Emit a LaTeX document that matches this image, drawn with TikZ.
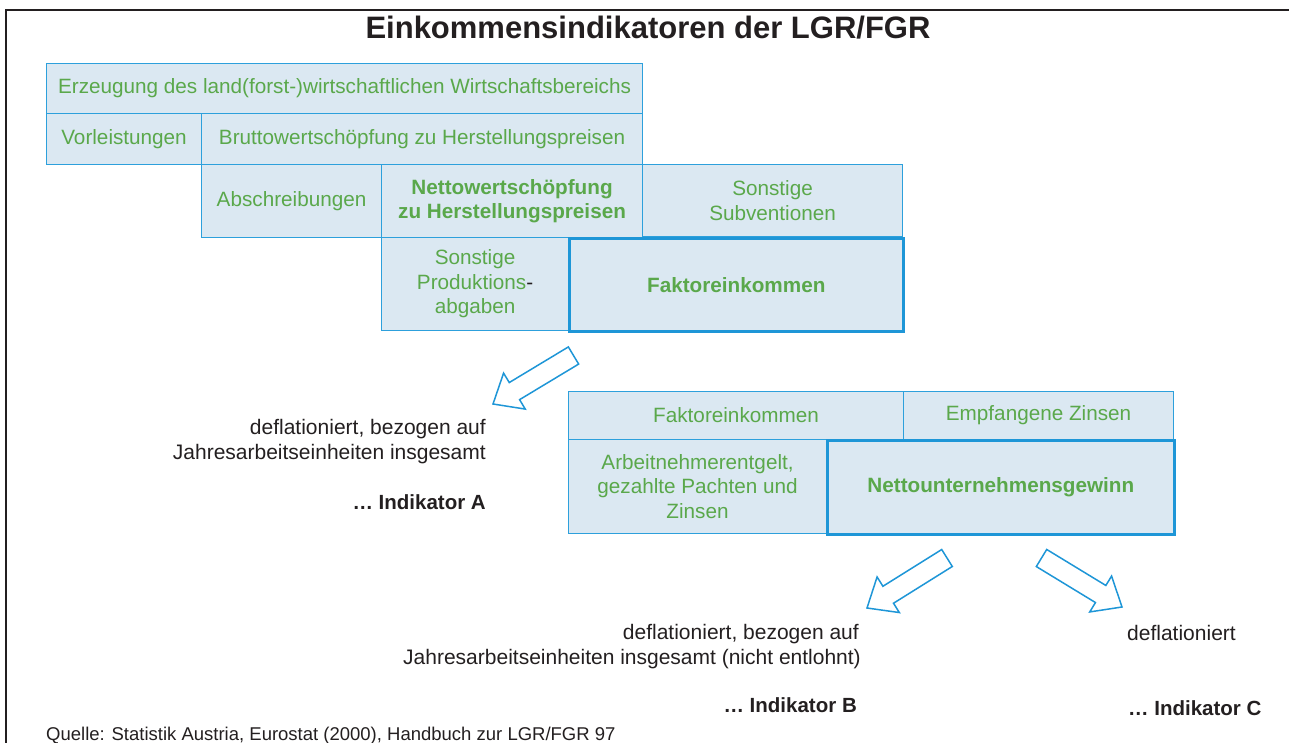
\documentclass[tikz,border=0pt]{standalone}
\usepackage{fontspec}
\setmainfont{Liberation Sans}
\usetikzlibrary{calc}
\definecolor{boxgreen}{RGB}{90,168,75}
\definecolor{boxfill}{RGB}{219,232,242}
\definecolor{boxline}{RGB}{45,160,220}
\definecolor{thickline}{RGB}{30,150,215}
\definecolor{txtblack}{RGB}{35,31,32}
\newcommand{\blkarrow}[2]{%
  \coordinate (#1-base) at ($(#2)!25pt!(#1)$);
  \draw[blkarr] ($(#1)!10pt!90:(#2)$) -- ($(#1-base)!10pt!90:(#2)$) -- ($(#1-base)!21pt!90:(#2)$) -- (#2)
     -- ($(#1-base)!21pt!-90:(#2)$) -- ($(#1-base)!10pt!-90:(#2)$) -- ($(#1)!10pt!-90:(#2)$) -- cycle;}
\begin{document}
\begin{tikzpicture}[x=1pt,y=-1pt,
  box/.style={draw=boxline, line width=1.1pt, fill=boxfill, text=boxgreen, align=center,
    inner sep=0pt, anchor=north west, font=\fontsize{20.7}{24.5}\selectfont},
  boldbox/.style={box, font=\fontsize{20.7}{24.5}\selectfont\bfseries},
  thickbox/.style={boldbox, line width=2.6pt, draw=thickline},
  lbl/.style={text=txtblack, inner sep=0pt, font=\fontsize{21}{25}\selectfont},
  boldlbl/.style={lbl, font=\fontsize{20.5}{25}\selectfont\bfseries},
  blkarr/.style={draw=thickline, line width=1.5pt, fill=white, line join=miter}]
\useasboundingbox (0,0) rectangle (1289,743);
% frame
\coordinate (fbl) at (6,743);
\coordinate (ftl) at (6,10);
\coordinate (ftr) at (1289,10);
\draw[line width=1.5pt, txtblack] (fbl) -- (ftl) -- (ftr);
% title
\node[text=txtblack, inner sep=0pt, anchor=base, font=\fontsize{31}{36}\selectfont\bfseries] (title) at (648,39) {Einkommensindikatoren der LGR/FGR};
% first group
\node[box, minimum width=596pt, minimum height=50pt] (erz) at (46,63) {\raisebox{-2pt}{Erzeugung des land(forst-)wirtschaftlichen Wirtschaftsbereichs}};
\node[box, minimum width=155pt, minimum height=51pt] (vor) at (46,113) {Vorleistungen};
\node[box, minimum width=441pt, minimum height=51pt] (bws) at (201,113) {Bruttowertschöpfung zu Herstellungspreisen};
\node[box, minimum width=180pt, minimum height=73pt] (abs) at (201,164) {Abschreibungen};
\node[boldbox, minimum width=261pt, minimum height=73pt] (nws) at (381,164) {Nettowertschöpfung\\zu Herstellungspreisen};
\node[box, minimum width=260pt, minimum height=72pt] (sub) at (642,164) {Sonstige\\Subventionen};
\node[box, minimum width=187pt, minimum height=93pt] (spa) at (381,237) {Sonstige\\Produktions{\color{txtblack}-}\\abgaben};
\node[thickbox, minimum width=334pt, minimum height=93pt] (fak) at (568,237) {Faktoreinkommen};
% second group
\node[box, minimum width=335pt, minimum height=48pt] (fak2) at (568,391) {Faktoreinkommen};
\node[box, minimum width=270pt, minimum height=48pt] (emp) at (903,391) {Empfangene Zinsen};
\node[box, minimum width=258pt, minimum height=94pt] (arb) at (568,439) {Arbeitnehmerentgelt,\\gezahlte Pachten und\\Zinsen};
\node[thickbox, minimum width=347pt, minimum height=94pt] (nug) at (826,439) {Nettounternehmensgewinn};
% block arrows
\coordinate (a1t) at (573.5,355.5); \coordinate (a1p) at (493,404);
\coordinate (a2t) at (947,558);     \coordinate (a2p) at (867,608);
\coordinate (a3t) at (1041.5,558);  \coordinate (a3p) at (1122,607);
\blkarrow{a1t}{a1p}
\blkarrow{a2t}{a2p}
\blkarrow{a3t}{a3p}
% labels
\node[lbl, anchor=base east] (d1a) at (486,434) {deflationiert, bezogen auf};
\node[lbl, anchor=base east] (d1b) at (486,459) {Jahresarbeitseinheiten insgesamt};
\node[boldlbl, anchor=base east] (indA) at (486,509) {… Indikator A};
\node[lbl, anchor=base east] (d2a) at (859,639) {deflationiert, bezogen auf};
\node[lbl, anchor=base east] (d2b) at (861,664) {Jahresarbeitseinheiten insgesamt (nicht entlohnt)};
\node[boldlbl, anchor=base east] (indB) at (857,712) {… Indikator B};
\node[lbl, anchor=base west] (d3) at (1127,640) {deflationiert};
\node[boldlbl, anchor=base west] (indC) at (1128,715) {… Indikator C};
\node[text=txtblack, inner sep=0pt, anchor=base west, font=\fontsize{18.5}{22}\selectfont] (src) at (46,740) {Quelle: Statistik Austria, Eurostat (2000), Handbuch zur LGR/FGR 97};
\end{tikzpicture}
\end{document}
